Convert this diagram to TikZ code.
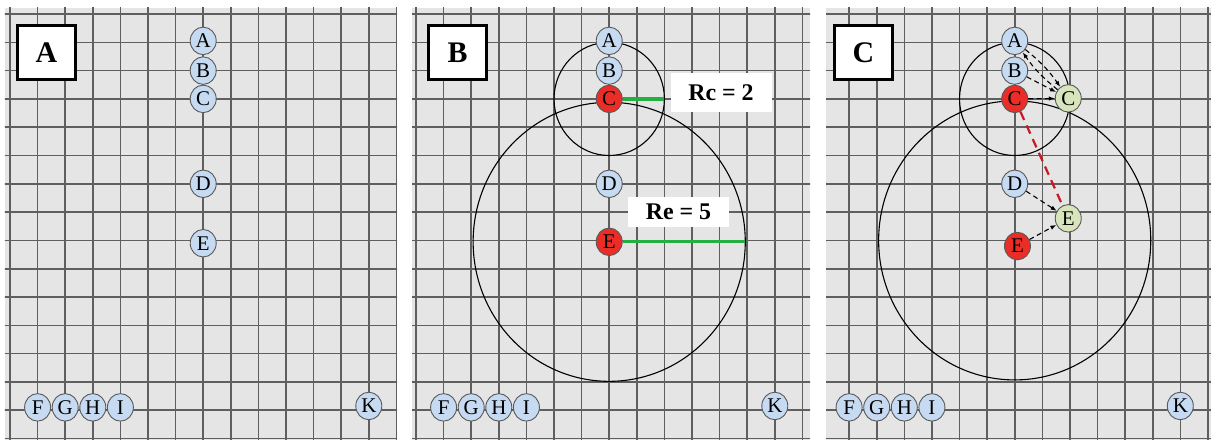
\documentclass[tikz,border=0pt]{standalone}
\usepackage{fontspec}
\setmainfont{Liberation Serif}
\usetikzlibrary{arrows.meta,calc,shapes.geometric}
\definecolor{GrisFondo}{RGB}{229,229,229}
\definecolor{GrisRejilla}{RGB}{95,95,95}
\definecolor{AzulNodo}{RGB}{198,218,242}
\definecolor{RojoNodo}{RGB}{235,45,40}
\definecolor{VerdeNodo}{RGB}{215,228,188}
\definecolor{VerdeRadio}{RGB}{35,175,65}
\definecolor{RojoTramo}{RGB}{200,25,35}
\pgfdeclarelayer{fondo}
\pgfdeclarelayer{trazos}
\pgfsetlayers{fondo,trazos,main}

\begin{document}
\begin{tikzpicture}[x=27.6bp, y=28.3bp, >={Latex[length=6bp,width=4.5bp]},
    nodo/.style={ellipse, draw=black!65, line width=0.9bp, inner sep=0pt,
        minimum width=26bp, minimum height=27.5bp,
        font=\fontsize{21}{21}\selectfont},
    azul/.style={nodo, fill=AzulNodo},
    rojo/.style={nodo, fill=RojoNodo},
    verde/.style={nodo, fill=VerdeNodo},
    letra/.style={draw, line width=2.4bp, fill=white, inner sep=0pt,
        minimum width=58bp, minimum height=54bp,
        font=\fontsize{30}{30}\selectfont\bfseries},
    etiqueta/.style={fill=white, inner sep=0pt, minimum width=101bp,
        font=\fontsize{24}{24}\selectfont\bfseries},
    rejilla/.style={GrisRejilla, line width=1.6bp},
    circulo/.style={line width=1.1bp},
    radio/.style={VerdeRadio, line width=3.2bp},
    flecha/.style={->, line width=1.1bp, dash pattern=on 5bp off 3.5bp},
    tramo/.style={RojoTramo, line width=2.2bp, dash pattern=on 9bp off 6bp}]

    \useasboundingbox (-10bp,14bp) rectangle (1201bp,-426bp);

    % fondo gris y rejilla de cada panel
    \begin{pgfonlayer}{fondo}
    \foreach \px/\xl/\xr in {0bp/-5bp/387bp, 406bp/-4bp/394bp, 811.5bp/4.5bp/389.5bp} {
        \begin{scope}[xshift=\px]
            \fill[GrisFondo] (\xl,6bp) rectangle (\xr,-426bp);
            \clip (\xl,6bp) rectangle (\xr,-426bp);
            \foreach \i in {0,...,15} \draw[rejilla] (\i,0.3) -- (\i,-15.3);
            \foreach \j in {0,...,15} \draw[rejilla] (-0.3,-\j) -- (14.4,-\j);
        \end{scope}
    }
    \end{pgfonlayer}

    % nodos comunes
    \foreach \px/\n in {0bp/1, 406bp/2, 811.5bp/3} {
        \begin{scope}[xshift=\px]
            \node[azul] (A\n) at (7,-0.95) {A};
            \node[azul] (B\n) at (7,-2) {B};
            \node[azul] (D\n) at (7,-6) {D};
            \node[azul] (F\n) at (1,-13.9) {F};
            \node[azul] (G\n) at (2,-13.9) {G};
            \node[azul] (H\n) at (3,-13.9) {H};
            \node[azul] (I\n) at (4,-13.9) {I};
            \node[azul] (K\n) at (13,-13.85) {K};
        \end{scope}
    }

    % panel A
    \node[letra] (L1) at (36.5bp,-38.5bp) {A};
    \node[azul] (C1) at (7,-3) {C};
    \node[azul] (E1) at (7,-8.1) {E};

    % panel B
    \begin{scope}[xshift=406bp]
        \node[letra] (L2) at (41.5bp,-38.5bp) {B};
        \node[rojo] (C2) at (7,-3) {C};
        \node[rojo] (E2) at (7,-8.05) {E};
        \coordinate (Rc2) at ($(C2)+(2,0)$);
        \coordinate (Re2) at ($(E2)+(4.93,0)$);
        \node[etiqueta, minimum height=39bp] (Tc2) at (305bp,-78.5bp) {Rc = 2};
        \node[etiqueta, minimum height=30bp] (Te2) at (262.5bp,-198bp) {Re = 5};
    \end{scope}
    \begin{pgfonlayer}{trazos}
        \draw[circulo] (C2) circle[radius=2];
        \draw[circulo] (E2) circle[radius=4.93];
        \draw[radio] (C2) -- (Rc2);
        \draw[radio] (E2) -- (Re2);
    \end{pgfonlayer}

    % panel C
    \begin{scope}[xshift=811.5bp]
        \node[letra] (L3) at (42bp,-38.5bp) {C};
        \node[rojo] (C3) at (7,-3) {C};
        \node[rojo] (E3) at (7.1,-8.2) {E};
        \node[verde] (Cv3) at (8.94,-2.98) {C};
        \node[verde] (Ev3) at (8.94,-7.22) {E};
        \coordinate (O3) at (7,-8);
    \end{scope}
    \begin{pgfonlayer}{trazos}
        \draw[circulo] (C3) circle[radius=2];
        \draw[circulo] (O3) circle[radius=4.93];
    \end{pgfonlayer}
    \draw[flecha] (A3) to[bend left=8] (Cv3);
    \draw[flecha] (Cv3) to[bend left=8] (A3);
    \draw[flecha] (B3) -- (Cv3);
    \draw[flecha] (C3) -- (Cv3);
    \draw[flecha] (D3) -- (Ev3);
    \draw[flecha] (E3) -- (Ev3);
    \draw[tramo] (C3) -- (Ev3);
\end{tikzpicture}
\end{document}
